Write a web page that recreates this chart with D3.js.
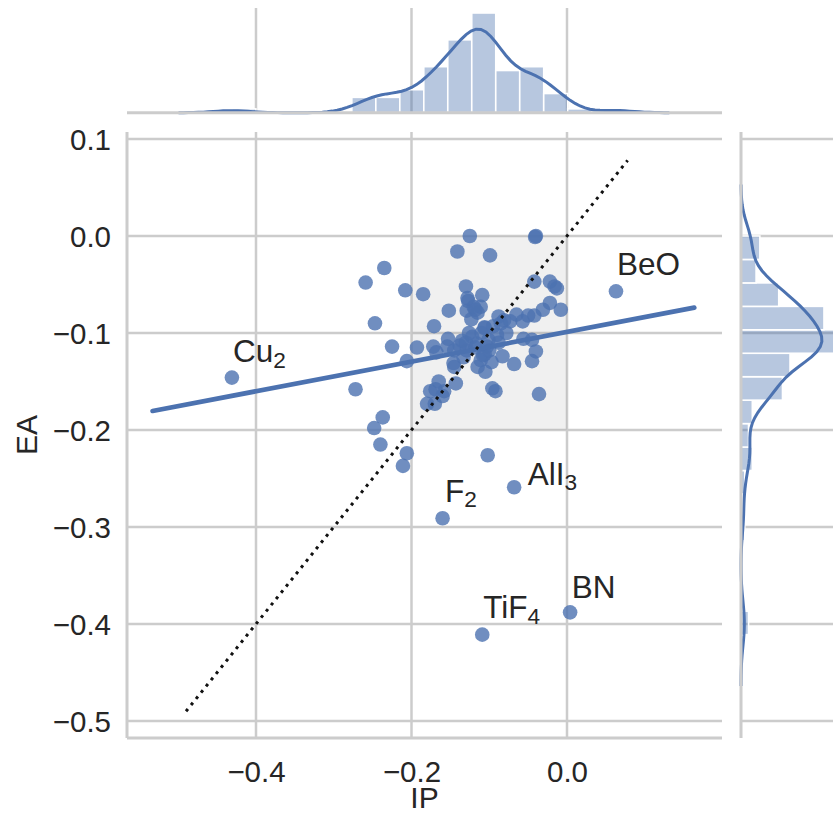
<!DOCTYPE html>
<html><head><meta charset="utf-8">
<script src="https://cdn.jsdelivr.net/npm/d3@7/dist/d3.min.js"></script>
<style>
body{margin:0;background:#fff}
svg{display:block}
text{font-family:"Liberation Sans",Arial,sans-serif;fill:#262626}
</style>
</head><body>
<svg id="chart" width="833" height="815"></svg>
<script>
// ---------------- data ----------------
const ipValues = [
 -0.431, 0.063, 0.004, -0.109, -0.160, -0.068, -0.102, -0.206, -0.211,
 -0.235, -0.259, -0.208, -0.247, -0.225, -0.206, -0.272, -0.237, -0.248, -0.240,
 -0.125, -0.040, -0.041, -0.141, -0.099, -0.185, -0.130, -0.109, -0.042, -0.022,
 -0.013, -0.127, -0.111, -0.118, -0.129, -0.123, -0.152, -0.171, -0.106, -0.088,
 -0.090, -0.081, -0.073, -0.065, -0.057, -0.050, -0.042, -0.031, -0.022, -0.008,
 -0.193, -0.172, -0.153, -0.154, -0.168, -0.138, -0.122, -0.116, -0.129, -0.103,
 -0.108, -0.056, -0.045, -0.040, -0.045, -0.083, -0.068, -0.097, -0.111, -0.146,
 -0.145, -0.105, -0.143, -0.176, -0.169, -0.158, -0.096, -0.092, -0.036, -0.180,
 -0.170, -0.110, -0.101, -0.106, -0.106, -0.095, -0.115, -0.120, -0.016, -0.128,
 -0.085, -0.135, -0.145, -0.130, -0.126, -0.118, -0.100, -0.088, -0.078, -0.133,
 -0.115, -0.165, -0.160
];
const eaValues = [
 -0.146, -0.057, -0.388, -0.411, -0.291, -0.259, -0.226, -0.224, -0.237,
 -0.033, -0.048, -0.056, -0.090, -0.114, -0.129, -0.158, -0.187, -0.198, -0.215,
 0.000, 0.000, -0.001, -0.016, -0.020, -0.060, -0.052, -0.061, -0.047, -0.047,
 -0.054, -0.067, -0.073, -0.076, -0.077, -0.086, -0.077, -0.093, -0.094, -0.083,
 -0.102, -0.087, -0.088, -0.081, -0.088, -0.082, -0.082, -0.076, -0.069, -0.076,
 -0.115, -0.114, -0.106, -0.114, -0.120, -0.113, -0.104, -0.111, -0.118, -0.114,
 -0.123, -0.106, -0.107, -0.119, -0.129, -0.124, -0.132, -0.130, -0.128, -0.131,
 -0.135, -0.140, -0.152, -0.160, -0.158, -0.160, -0.157, -0.160, -0.163, -0.173,
 -0.173, -0.100, -0.107, -0.122, -0.095, -0.093, -0.079, -0.073, -0.052, -0.064,
 -0.090, -0.108, -0.118, -0.110, -0.100, -0.115, -0.118, -0.110, -0.100, -0.125,
 -0.135, -0.150, -0.165
];

// annotations: text, subscript, text anchor position (data units)
const labelText = ["Cu", "BeO", "BN", "TiF", "F", "AlI"];
const labelSub  = ["2", "", "", "4", "2", "3"];
const labelX    = [-0.4296, 0.0643, 0.0060, -0.1077, -0.1569, -0.0505];
const labelY    = [-0.1299, -0.0402, -0.3729, -0.3941, -0.2739, -0.2567];

// histograms (counts per bin)
const ipHistRange  = [-0.431, 0.0626];
const ipHistCounts = [1, 0, 0, 0, 0, 4, 4, 6, 12, 19, 26, 11, 12, 5, 1, 1];
const eaHistRange  = [-0.411, 0.0];
const eaHistCounts = [2, 0, 0, 0, 1, 0, 1, 3, 2, 3, 11, 13, 25, 22, 10, 4, 5];

// regression line end points and identity (dotted) line range
const regLineX = [-0.533, 0.1637];
const regLineY = [-0.1804, -0.0739];
const diagRange = [-0.49, 0.078];
// highlighted box
const boxX = [-0.2, 0.0];
const boxY = [-0.2, 0.0];

const xTicks = [-0.4, -0.2, 0.0];
const yTicks = [0.1, 0.0, -0.1, -0.2, -0.3, -0.4, -0.5];

// ---------------- layout ----------------
const main = {l: 127, r: 722, t: 132, b: 738};
const topM = {t: 8, b: 112.7};
const rightM = {l: 741, r: 840};
const blue = "#4c72b0";
const gridCol = "#cccccc";
const tickFont = 29.5, labelFont = 30, annFont = 31.5;

const x = d3.scaleLinear()
  .domain([(main.l - 567) / 777.5, (main.r - 567) / 777.5])
  .range([main.l, main.r]);
const y = d3.scaleLinear()
  .domain([(236 - main.b) / 970, (236 - main.t) / 970])
  .range([main.b, main.t]);

const svg = d3.select("#chart");
const fmt = d3.format(".1f");

// ---------------- KDE (statsmodels-style scott bandwidth, cut=3) ----------------
function kde(values) {
  const s = values.slice().sort(d3.ascending);
  const n = s.length;
  const sd = d3.deviation(s);
  const iqr = d3.quantileSorted(s, 0.75) - d3.quantileSorted(s, 0.25);
  const A = Math.min(sd, iqr / 1.349);
  const bw = 1.059 * A * Math.pow(n, -0.2);
  const lo = s[0] - 3 * bw, hi = s[n - 1] + 3 * bw;
  const grid = d3.range(100).map(i => lo + i * (hi - lo) / 99);
  const c = 1 / (n * bw * Math.sqrt(2 * Math.PI));
  return grid.map(g => [g, c * d3.sum(s, v => Math.exp(-0.5 * ((g - v) / bw) ** 2))]);
}
function histBins(range, counts) {
  const n = counts.length, w = (range[1] - range[0]) / n, N = d3.sum(counts);
  return counts.map((c, i) => ({x0: range[0] + i * w, x1: range[0] + (i + 1) * w, d: c / (N * w)}));
}

// ---------------- main grid ----------------
const g = svg.append("g");
g.append("g").selectAll("line").data(xTicks).join("line")
  .attr("x1", d => x(d)).attr("x2", d => x(d))
  .attr("y1", main.t).attr("y2", main.b)
  .attr("stroke", gridCol).attr("stroke-width", 2.5);
g.append("g").selectAll("line").data(yTicks).join("line")
  .attr("x1", main.l).attr("x2", main.r)
  .attr("y1", d => y(d)).attr("y2", d => y(d))
  .attr("stroke", gridCol).attr("stroke-width", 2.5);

// highlighted box
g.append("rect")
  .attr("x", x(boxX[0])).attr("y", y(boxY[1]))
  .attr("width", x(boxX[1]) - x(boxX[0])).attr("height", y(boxY[0]) - y(boxY[1]))
  .attr("fill", "#808080").attr("fill-opacity", 0.12);

// scatter points
const pts = ipValues.map((v, i) => [v, eaValues[i]]);
g.append("g").selectAll("circle").data(pts).join("circle")
  .attr("cx", d => x(d[0])).attr("cy", d => y(d[1])).attr("r", 7.3)
  .attr("fill", blue).attr("fill-opacity", 0.8);

// regression line
g.append("line")
  .attr("x1", x(regLineX[0])).attr("y1", y(regLineY[0]))
  .attr("x2", x(regLineX[1])).attr("y2", y(regLineY[1]))
  .attr("stroke", blue).attr("stroke-width", 4.7).attr("stroke-linecap", "round");

// identity line (dotted)
g.append("line")
  .attr("x1", x(diagRange[0])).attr("y1", y(diagRange[0]))
  .attr("x2", x(diagRange[1])).attr("y2", y(diagRange[1]))
  .attr("stroke", "#111").attr("stroke-width", 3)
  .attr("stroke-dasharray", "3,5");

// annotations
labelText.forEach((t, i) => {
  const tx = g.append("text")
    .attr("x", x(labelX[i])).attr("y", y(labelY[i]))
    .attr("font-size", annFont);
  tx.append("tspan").text(t);
  if (labelSub[i]) tx.append("tspan").attr("font-size", annFont * 0.72).attr("dy", 5.5).text(labelSub[i]);
});

// spines
g.append("line").attr("x1", main.l).attr("x2", main.l).attr("y1", main.t).attr("y2", main.b)
  .attr("stroke", gridCol).attr("stroke-width", 3);
g.append("line").attr("x1", main.l).attr("x2", main.r).attr("y1", main.b).attr("y2", main.b)
  .attr("stroke", gridCol).attr("stroke-width", 3);

// tick labels
const xAxis = d3.axisBottom(x).tickValues(xTicks).tickSize(0).tickPadding(0).tickFormat(fmt);
const xa = svg.append("g").attr("transform", `translate(0,${main.b})`).call(xAxis);
xa.select(".domain").remove();
xa.attr("font-family", null).attr("font-size", null);
xa.selectAll("text").attr("font-size", tickFont).attr("dy", null).attr("y", 44)
  .style("fill", "#262626");
const yAxis = d3.axisLeft(y).tickValues(yTicks).tickSize(0).tickPadding(0).tickFormat(fmt);
const ya = svg.append("g").attr("transform", `translate(${main.l - 16},0)`).call(yAxis);
ya.select(".domain").remove();
ya.attr("font-family", null).attr("font-size", null);
ya.selectAll("text").attr("font-size", tickFont).attr("dy", "0.35em").attr("x", 0)
  .style("fill", "#262626");

// axis labels
svg.append("text").attr("x", (main.l + main.r) / 2).attr("y", 808)
  .attr("text-anchor", "middle").attr("font-size", labelFont).text("IP");
svg.append("text").attr("transform", `translate(37,${(main.t + main.b) / 2}) rotate(-90)`)
  .attr("text-anchor", "middle").attr("font-size", labelFont).text("EA");

// ---------------- top marginal ----------------
const ipBins = histBins(ipHistRange, ipHistCounts);
const ipKde = kde(ipValues);
const topMax = 1.05 * Math.max(d3.max(ipBins, d => d.d), d3.max(ipKde, d => d[1]));
const yTop = d3.scaleLinear().domain([0, topMax]).range([topM.b, topM.t]);
const gt = svg.append("g");
gt.selectAll("line.grid").data(xTicks).join("line").attr("class", "grid")
  .attr("x1", d => x(d)).attr("x2", d => x(d)).attr("y1", topM.t).attr("y2", topM.b)
  .attr("stroke", gridCol).attr("stroke-width", 2.5);
gt.selectAll("rect").data(ipBins.filter(b => b.d > 0)).join("rect")
  .attr("x", d => x(d.x0)).attr("width", d => x(d.x1) - x(d.x0))
  .attr("y", d => yTop(d.d)).attr("height", d => yTop(0) - yTop(d.d))
  .attr("fill", blue).attr("fill-opacity", 0.4)
  .attr("stroke", "#fff").attr("stroke-width", 1.6);
gt.append("path").datum(ipKde)
  .attr("d", d3.line().x(d => x(d[0])).y(d => yTop(d[1])))
  .attr("fill", "none").attr("stroke", blue).attr("stroke-width", 3);
gt.append("line").attr("x1", main.l).attr("x2", main.r).attr("y1", topM.b).attr("y2", topM.b)
  .attr("stroke", gridCol).attr("stroke-width", 3);

// ---------------- right marginal ----------------
const eaBins = histBins(eaHistRange, eaHistCounts);
const eaKde = kde(eaValues);
const rMax = 1.05 * Math.max(d3.max(eaBins, d => d.d), d3.max(eaKde, d => d[1]));
const xRight = d3.scaleLinear().domain([0, rMax]).range([rightM.l, rightM.r]);
const gr = svg.append("g");
gr.selectAll("line.grid").data(yTicks).join("line").attr("class", "grid")
  .attr("x1", rightM.l).attr("x2", rightM.r).attr("y1", d => y(d)).attr("y2", d => y(d))
  .attr("stroke", gridCol).attr("stroke-width", 2.5);
gr.selectAll("rect").data(eaBins.filter(b => b.d > 0)).join("rect")
  .attr("y", d => y(d.x1)).attr("height", d => y(d.x0) - y(d.x1))
  .attr("x", xRight(0)).attr("width", d => xRight(d.d) - xRight(0))
  .attr("fill", blue).attr("fill-opacity", 0.4)
  .attr("stroke", "#fff").attr("stroke-width", 1.6);
gr.append("path").datum(eaKde)
  .attr("d", d3.line().y(d => y(d[0])).x(d => xRight(d[1])))
  .attr("fill", "none").attr("stroke", blue).attr("stroke-width", 3);
gr.append("line").attr("x1", rightM.l).attr("x2", rightM.l).attr("y1", main.t).attr("y2", main.b)
  .attr("stroke", gridCol).attr("stroke-width", 3);
</script>
</body></html>
